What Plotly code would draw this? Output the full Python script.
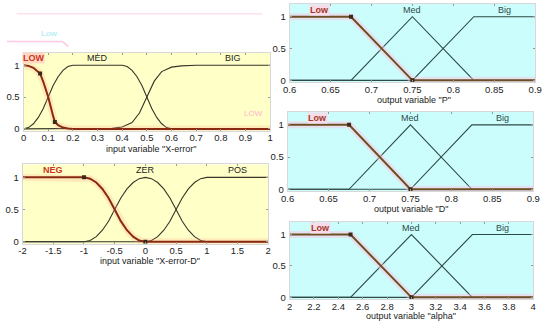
import plotly.graph_objects as go

W, H = 550, 327

# ---------------- data ----------------
# Panel 1: input variable "X-error"
xe_low_x = [0, 0.02, 0.04, 0.067, 0.08, 0.10, 0.12, 0.127, 0.14, 0.16, 0.18, 0.2, 1]
xe_low_y = [1, 0.99, 0.96, 0.87, 0.74, 0.5, 0.2, 0.11, 0.06, 0.02, 0.005, 0, 0]
xe_low_mk_x = [0.067, 0.127]
xe_low_mk_y = [0.87, 0.11]
xe_med_x = [0, 0.02, 0.04, 0.06, 0.08, 0.1, 0.12, 0.14, 0.16, 0.18, 0.2, 0.4, 0.42, 0.44, 0.46, 0.48, 0.5,
            0.52, 0.54, 0.56, 0.58, 0.6, 1]
xe_med_y = [0, 0.02, 0.08, 0.18, 0.32, 0.5, 0.68, 0.82, 0.92, 0.98, 1, 1, 0.98, 0.92, 0.82, 0.68, 0.5,
            0.32, 0.18, 0.08, 0.02, 0, 0]
xe_big_x = [0, 0.3, 0.36, 0.4, 0.44, 0.47, 0.5, 0.53, 0.56, 0.6, 0.64, 0.7, 0.8, 1]
xe_big_y = [0, 0, 0.01, 0.03, 0.1, 0.25, 0.5, 0.75, 0.9, 0.97, 0.99, 1, 1, 1]
xe_labels = ["LOW", "MED", "BIG"]
xe_label_x = [0.04, 0.3, 0.85]
xe_ticks = [0, 0.1, 0.2, 0.3, 0.4, 0.5, 0.6, 0.7, 0.8, 0.9, 1]
xe_ticktext = ["0", "0.1", "0.2", "0.3", "0.4", "0.5", "0.6", "0.7", "0.8", "0.9", "1"]

# Panel 2: input variable "X-error-D"
xd_neg_x = [-2, -1, -0.9, -0.8, -0.7, -0.6, -0.5, -0.4, -0.3, -0.2, -0.1, 0, 2]
xd_neg_y = [1, 1, 0.98, 0.92, 0.82, 0.68, 0.5, 0.32, 0.18, 0.08, 0.02, 0, 0]
xd_neg_mk_x = [-1, 0]
xd_neg_mk_y = [1, 0]
xd_zer_x = [-2, -1, -0.9, -0.8, -0.7, -0.6, -0.5, -0.4, -0.3, -0.2, -0.1, 0,
            0.1, 0.2, 0.3, 0.4, 0.5, 0.6, 0.7, 0.8, 0.9, 1, 2]
xd_zer_y = [0, 0, 0.02, 0.08, 0.18, 0.32, 0.5, 0.68, 0.82, 0.92, 0.98, 1,
            0.98, 0.92, 0.82, 0.68, 0.5, 0.32, 0.18, 0.08, 0.02, 0, 0]
xd_pos_x = [-2, 0, 0.1, 0.2, 0.3, 0.4, 0.5, 0.6, 0.7, 0.8, 0.9, 1, 2]
xd_pos_y = [0, 0, 0.02, 0.08, 0.18, 0.32, 0.5, 0.68, 0.82, 0.92, 0.98, 1, 1]
xd_labels = ["NEG", "ZER", "POS"]
xd_label_x = [-1.5, 0, 1.5]
xd_ticks = [-2, -1.5, -1, -0.5, 0, 0.5, 1, 1.5, 2]
xd_ticktext = ["-2", "-1.5", "-1", "-0.5", "0", "0.5", "1", "1.5", "2"]

# Panels 3/4: output variables "P" and "D"
pd_low_x = [0.6, 0.675, 0.75, 0.9]
pd_low_y = [1, 1, 0, 0]
pd_med_x = [0.6, 0.675, 0.75, 0.825, 0.9]
pd_med_y = [0, 0, 1, 0, 0]
pd_big_x = [0.6, 0.75, 0.825, 0.9]
pd_big_y = [0, 0, 1, 1]
pd_mk_x = [0.675, 0.75]
pd_mk_y = [1, 0]
pd_label_x = [0.637, 0.75, 0.863]
pd_ticks = [0.6, 0.65, 0.7, 0.75, 0.8, 0.85, 0.9]
pd_ticktext = ["0.6", "0.65", "0.7", "0.75", "0.8", "0.85", "0.9"]

# Panel 5: output variable "alpha"
al_low_x = [2, 2.5, 3, 4]
al_low_y = [1, 1, 0, 0]
al_med_x = [2, 2.5, 3, 3.5, 4]
al_med_y = [0, 0, 1, 0, 0]
al_big_x = [2, 3, 3.5, 4]
al_big_y = [0, 0, 1, 1]
al_mk_x = [2.5, 3]
al_mk_y = [1, 0]
al_label_x = [2.25, 3, 3.75]
al_ticks = [2, 2.2, 2.4, 2.6, 2.8, 3, 3.2, 3.4, 3.6, 3.8, 4]
al_ticktext = ["2", "2.2", "2.4", "2.6", "2.8", "3", "3.2", "3.4", "3.6", "3.8", "4"]

out_labels = ["Low", "Med", "Big"]
y_ticks = [0, 0.5, 1]
y_ticktext = ["0", "0.5", "1"]

# ---------------- styling ----------------
YEL = "#FFFFC8"
CYA = "#CCFDFD"
FONT = "Liberation Sans, Arial, sans-serif"

panels = [
    dict(xd=(17, 270), yd=(53, 132), xr=[0, 1], bg=YEL, title='input variable "X-error"', tp=(148, 150),
         ticks=xe_ticks, tt=xe_ticktext),
    dict(xd=(16, 268), yd=(166, 246), xr=[-2, 2], bg=YEL, title='input variable "X-error-D"', tp=(147, 263),
         ticks=xd_ticks, tt=xd_ticktext),
    dict(xd=(290, 542), yd=(4, 83), xr=[0.6, 0.9], bg=CYA, title='output variable "P"', tp=(418, 101),
         ticks=pd_ticks, tt=pd_ticktext),
    dict(xd=(288, 540), yd=(113, 193), xr=[0.6, 0.9], bg=CYA, title='output variable "D"', tp=(415, 211),
         ticks=pd_ticks, tt=pd_ticktext),
    dict(xd=(290, 540), yd=(224, 302), xr=[2, 4], bg=CYA, title='output variable "alpha"', tp=(415, 319),
         ticks=al_ticks, tt=al_ticktext),
]

fig = go.Figure()
layout = dict(width=W, height=H, margin=dict(l=0, r=0, t=0, b=0), paper_bgcolor="white",
              plot_bgcolor="white", showlegend=False, font=dict(family=FONT, size=10, color="#222"))
shapes = []
annotations = []

for i, p in enumerate(panels):
    n = "" if i == 0 else str(i + 1)
    layout["xaxis" + n] = dict(domain=[p["xd"][0] / W, p["xd"][1] / W], range=p["xr"], anchor="y" + n,
                               tickvals=p["ticks"], ticktext=p["tt"], ticks="inside", ticklen=2,
                               tickcolor="#999", showline=True, linecolor="#d8d8d8", mirror="allticks",
                               showgrid=False, zeroline=False, tickfont=dict(size=9.5, color="#222"),
                               ticklabelstandoff=-2, fixedrange=True)
    layout["yaxis" + n] = dict(domain=[1 - p["yd"][1] / H, 1 - p["yd"][0] / H], range=[-0.03, 1.2],
                               anchor="x" + n, tickvals=y_ticks, ticktext=y_ticktext, ticks="inside",
                               ticklen=2, tickcolor="#999", showline=True, linecolor="#d8d8d8",
                               mirror="allticks", showgrid=False, zeroline=False,
                               tickfont=dict(size=9.5, color="#222"), ticklabelstandoff=1, fixedrange=True)
    shapes.append(dict(type="rect", xref="x" + n + " domain", yref="y" + n + " domain", x0=0, x1=1, y0=0, y1=1,
                       fillcolor=p["bg"], line=dict(width=0), layer="below"))
    annotations.append(dict(text=p["title"], xref="paper", yref="paper", x=p["tp"][0] / W,
                            y=1 - p["tp"][1] / H, showarrow=False, xanchor="center", yanchor="middle",
                            font=dict(size=9, color="#222")))


def add_mf(xs, ys, ax, color, width=1.1):
    n = "" if ax == 1 else str(ax)
    fig.add_trace(go.Scatter(x=xs, y=ys, mode="lines", line=dict(color=color, width=width),
                             xaxis="x" + n, yaxis="y" + n, hoverinfo="skip"))


def add_sel(xs, ys, mx, my, ax, color, halo):
    n = "" if ax == 1 else str(ax)
    fig.add_trace(go.Scatter(x=xs, y=ys, mode="lines", line=dict(color=halo, width=7),
                             xaxis="x" + n, yaxis="y" + n, hoverinfo="skip"))
    fig.add_trace(go.Scatter(x=xs, y=ys, mode="lines", line=dict(color=color, width=2),
                             xaxis="x" + n, yaxis="y" + n, hoverinfo="skip"))
    fig.add_trace(go.Scatter(x=mx, y=my, mode="markers",
                             marker=dict(symbol="square", size=4, color="#3a2a1a"),
                             xaxis="x" + n, yaxis="y" + n, hoverinfo="skip"))


def add_labels(names, xs, ax, colors, bgs, bold):
    n = "" if ax == 1 else str(ax)
    for t, x, c, bg, b in zip(names, xs, colors, bgs, bold):
        annotations.append(dict(text=("<b>%s</b>" % t) if b else t, x=x, y=1.11, xref="x" + n, yref="y" + n,
                                showarrow=False, xanchor="center", yanchor="middle", bgcolor=bg,
                                borderpad=0, font=dict(size=9, color=c)))


DARK = "#35352a"
TEAL = "#2c4a46"
RED = "#8a2a14"
BROWN = "#6e4e24"
HALO_Y = "rgba(255,160,130,0.22)"
HALO_C = "rgba(255,190,220,0.45)"

# panel 1
add_mf(xe_med_x, xe_med_y, 1, DARK)
add_mf(xe_big_x, xe_big_y, 1, DARK)
add_sel(xe_low_x, xe_low_y, xe_low_mk_x, xe_low_mk_y, 1, RED, HALO_Y)
add_labels(xe_labels, xe_label_x, 1, ["#cc3322", "#222", "#222"], ["#ffd8c4", "rgba(0,0,0,0)", "rgba(0,0,0,0)"],
           [True, False, False])
# panel 2
add_mf(xd_zer_x, xd_zer_y, 2, DARK)
add_mf(xd_pos_x, xd_pos_y, 2, DARK)
add_sel(xd_neg_x, xd_neg_y, xd_neg_mk_x, xd_neg_mk_y, 2, RED, HALO_Y)
add_labels(xd_labels, xd_label_x, 2, ["#cc3322", "#222", "#222"], ["rgba(0,0,0,0)"] * 3, [True, False, False])
# panels 3 & 4
for ax in (3, 4):
    add_mf(pd_med_x, pd_med_y, ax, TEAL)
    add_mf(pd_big_x, pd_big_y, ax, TEAL)
    add_sel(pd_low_x, pd_low_y, pd_mk_x, pd_mk_y, ax, BROWN, HALO_C)
    add_labels(out_labels, pd_label_x, ax, ["#a03a2a", TEAL, TEAL], ["#f8dcea", "rgba(0,0,0,0)", "rgba(0,0,0,0)"],
               [True, False, False])
# panel 5
add_mf(al_med_x, al_med_y, 5, TEAL)
add_mf(al_big_x, al_big_y, 5, TEAL)
add_sel(al_low_x, al_low_y, al_mk_x, al_mk_y, 5, BROWN, HALO_C)
add_labels(out_labels, al_label_x, 5, ["#a03a2a", TEAL, TEAL], ["#f8dcea", "rgba(0,0,0,0)", "rgba(0,0,0,0)"],
           [True, False, False])

# faint ghost artefacts visible in the reference image
annotations.append(dict(text="<b>Low</b>", xref="paper", yref="paper", x=33 / W, y=1 - 27 / H, showarrow=False,
                        font=dict(size=8, color="#b8f0f4")))
annotations.append(dict(text="LOW", xref="paper", yref="paper", x=253 / W, y=1 - 108 / H, showarrow=False,
                        font=dict(size=8, color="#ffb4cc")))
shapes.append(dict(type="line", xref="paper", yref="paper", x0=10 / W, x1=262 / W, y0=1 - 14 / H, y1=1 - 14 / H,
                   line=dict(color="#ffe0f0", width=1.5)))
shapes.append(dict(type="line", xref="paper", yref="paper", x0=0, x1=57 / W, y0=1 - 42 / H, y1=1 - 42 / H,
                   line=dict(color="#ffc8e4", width=1.5)))
shapes.append(dict(type="line", xref="paper", yref="paper", x0=57 / W, x1=63 / W, y0=1 - 42 / H, y1=1 - 47 / H,
                   line=dict(color="#ffc8e4", width=1.5)))

layout["shapes"] = shapes
layout["annotations"] = annotations
fig.update_layout(**layout)
fig.write_html("out.html", config={"displayModeBar": False, "staticPlot": True},
               post_script="document.body.style.margin='0';document.body.style.padding='0';"
                           "document.documentElement.style.margin='0';")
